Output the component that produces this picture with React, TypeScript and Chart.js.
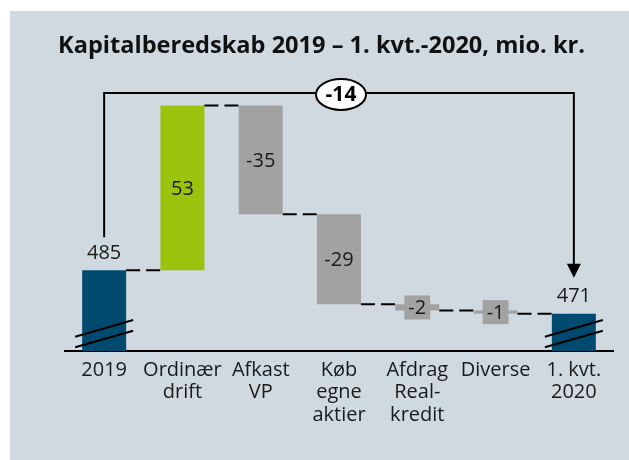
import React, { useEffect, useRef } from "react";
import { Chart, registerables } from "chart.js";

Chart.register(...registerables);

const titleText = "Kapitalberedskab 2019 – 1. kvt.-2020, mio. kr.";
const categories: string[][] = [
  ["2019"],
  ["Ordinær", "drift"],
  ["Afkast", "VP"],
  ["Køb", "egne", "aktier"],
  ["Afdrag", "Real-", "kredit"],
  ["Diverse"],
  ["1. kvt.", "2020"],
];
const values = [485, 53, -35, -29, -2, -1, 471];
const isTotal = [true, false, false, false, false, false, true];
const valueLabels = ["485", "53", "-35", "-29", "-2", "-1", "471"];
const netChangeLabel = "-14";
const axisMin = 459;
const axisMax = 542;

const BLUE = "#004a6f";
const GREEN = "#9bc30d";
const GRAY = "#a2a2a2";
const BG = "#d1d9e0";
const TEXT = "#1a1a1a";
const FONT = "'Open Sans', 'DejaVu Sans', sans-serif";

function buildRanges() {
  const ranges: [number, number][] = [];
  const levels: number[] = [];
  let running = 0;
  values.forEach((v, i) => {
    if (isTotal[i]) {
      ranges.push([axisMin, v]);
      running = v;
    } else {
      const a = running;
      const b = running + v;
      ranges.push([Math.min(a, b), Math.max(a, b)]);
      running = b;
    }
    levels.push(running);
  });
  return { ranges, levels };
}

const overlayPlugin = {
  id: "overlay",
  afterDatasetsDraw(chart: any) {
    const { ctx, chartArea } = chart;
    const yScale = chart.scales.y;
    const meta = chart.getDatasetMeta(0);
    const { levels } = buildRanges();
    const bars = meta.data.map((b: any) => b.getProps(["x", "y", "base", "width"], true));
    ctx.save();

    // connectors
    ctx.strokeStyle = "#000";
    ctx.lineWidth = 2;
    ctx.setLineDash([14, 6]);
    for (let i = 0; i < bars.length - 1; i++) {
      const py = yScale.getPixelForValue(levels[i]);
      const x1 = bars[i].x + bars[i].width / 2;
      const x2 = bars[i + 1].x - bars[i + 1].width / 2;
      ctx.beginPath();
      ctx.moveTo(x1, py);
      ctx.lineTo(x2, py);
      ctx.stroke();
    }
    ctx.setLineDash([]);

    // axis breaks on total bars
    const bottom = chartArea.bottom;
    bars.forEach((b: any, i: number) => {
      if (!isTotal[i]) return;
      const l = b.x - b.width / 2 - 7;
      const r = b.x + b.width / 2 + 7;
      ctx.beginPath();
      ctx.moveTo(l, bottom - 14.3);
      ctx.lineTo(r, bottom - 31);
      ctx.moveTo(l, bottom - 3.7);
      ctx.lineTo(r, bottom - 20.3);
      ctx.stroke();
    });

    // value labels
    ctx.font = `20px ${FONT}`;
    ctx.textAlign = "center";
    ctx.textBaseline = "middle";
    bars.forEach((b: any, i: number) => {
      const top = Math.min(b.y, b.base);
      const bot = Math.max(b.y, b.base);
      const label = valueLabels[i];
      if (isTotal[i]) {
        ctx.fillStyle = TEXT;
        ctx.fillText(label, b.x, top - 17);
      } else if (Math.abs(values[i]) <= 2) {
        const cy = (top + bot) / 2;
        const w = ctx.measureText(label).width + 8;
        ctx.fillStyle = GRAY;
        ctx.fillRect(b.x - w / 2, cy - 12, w, 24);
        ctx.fillStyle = TEXT;
        ctx.fillText(label, b.x, cy + 1);
      } else {
        ctx.fillStyle = TEXT;
        ctx.fillText(label, b.x, (top + bot) / 2 + 1);
      }
    });

    // net change arrow
    const first = bars[0];
    const last = bars[bars.length - 1];
    const topY = chartArea.top;
    const startY = Math.min(first.y, first.base) - 33;
    const tipY = Math.min(last.y, last.base) - 36;
    ctx.strokeStyle = "#000";
    ctx.lineWidth = 2;
    ctx.beginPath();
    ctx.moveTo(first.x, startY);
    ctx.lineTo(first.x, topY);
    ctx.lineTo(last.x, topY);
    ctx.lineTo(last.x, tipY - 12);
    ctx.stroke();
    ctx.fillStyle = "#000";
    ctx.beginPath();
    ctx.moveTo(last.x - 7, tipY - 14);
    ctx.lineTo(last.x + 7, tipY - 14);
    ctx.lineTo(last.x, tipY);
    ctx.closePath();
    ctx.fill();

    // ellipse label
    const ex = (first.x + last.x) / 2 + 2;
    const ey = topY + 1.5;
    ctx.beginPath();
    ctx.ellipse(ex, ey, 25, 15.5, 0, 0, Math.PI * 2);
    ctx.fillStyle = "#fff";
    ctx.fill();
    ctx.stroke();
    ctx.fillStyle = "#000";
    ctx.font = `bold 21px ${FONT}`;
    ctx.fillText(netChangeLabel, ex, ey + 1);

    // title
    ctx.font = `bold 24px ${FONT}`;
    const tw = ctx.measureText(titleText).width;
    const target = 527;
    const sx = tw > target ? target / tw : 1;
    ctx.save();
    ctx.translate(chart.width / 2 + 2, 35);
    ctx.scale(sx, 1);
    ctx.fillStyle = "#111";
    ctx.textAlign = "center";
    ctx.textBaseline = "middle";
    ctx.fillText(titleText, 0, 0);
    ctx.restore();

    ctx.restore();
  },
};

export default function App() {
  const ref = useRef<HTMLCanvasElement | null>(null);
  useEffect(() => {
    if (!ref.current) return;
    const { ranges } = buildRanges();
    const colors = values.map((v, i) => (isTotal[i] ? BLUE : v > 0 ? GREEN : GRAY));
    const chart = new Chart(ref.current, {
      type: "bar",
      data: {
        labels: categories,
        datasets: [
          {
            data: ranges as any,
            backgroundColor: colors,
            borderWidth: 0,
            barPercentage: 0.562,
            categoryPercentage: 1,
          },
        ],
      },
      options: {
        animation: false,
        responsive: false,
        maintainAspectRatio: false,
        layout: { padding: { left: 55, right: 16, top: 82, bottom: 0 } },
        plugins: {
          legend: { display: false },
          title: { display: false },
          tooltip: { enabled: false },
        },
        scales: {
          x: {
            grid: { display: false, drawTicks: false },
            border: { display: true, color: "#000", width: 2 },
            ticks: {
              color: TEXT,
              font: { family: FONT, size: 20, lineHeight: 1.12 },
              padding: 8,
              maxRotation: 0,
              autoSkip: false,
            },
            afterFit: (s: any) => {
              s.height = 109;
            },
          },
          y: { display: false, min: axisMin, max: axisMax },
        },
      },
      plugins: [overlayPlugin],
    });
    return () => chart.destroy();
  }, []);
  return (
    <div
      style={{
        position: "fixed",
        left: 10,
        top: 11,
        width: 619,
        height: 449,
        background: BG,
      }}
    >
      <canvas ref={ref} width={619} height={449} style={{ width: 619, height: 449, display: "block" }} />
    </div>
  );
}
